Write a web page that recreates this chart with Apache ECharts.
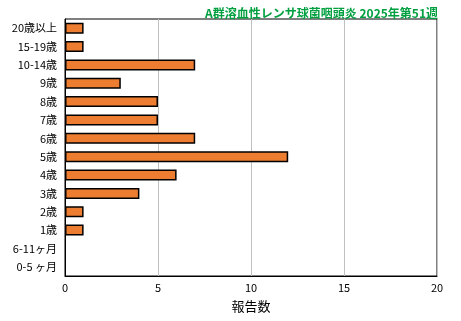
<!DOCTYPE html>
<html>
<head>
<meta charset="utf-8">
<script src="https://cdn.jsdelivr.net/npm/echarts@6/dist/echarts.min.js"></script>
<style>
  html, body { margin: 0; padding: 0; background: #fff; }
  #chart { width: 461px; height: 321px; }
</style>
</head>
<body>
<div id="chart"></div>
<script>
// categories listed top to bottom
const ageGroups = ['20歳以上', '15-19歳', '10-14歳', '9歳', '8歳', '7歳', '6歳', '5歳', '4歳', '3歳', '2歳', '1歳', '6-11ヶ月', '0-5 ヶ月'];
const reports = [1, 1, 7, 3, 5, 5, 7, 12, 6, 4, 1, 1, 0, 0];
const titleText = 'A群溶血性レンサ球菌咽頭炎 2025年第51週';

const font = '"Noto Sans CJK JP", "DejaVu Sans", sans-serif';
const myChart = echarts.init(document.getElementById('chart'));
myChart.setOption({
  animation: false,
  title: {
    text: titleText,
    right: 18,
    top: 2,
    textStyle: { color: '#00A040', fontSize: 12, fontWeight: 'bold', fontFamily: font }
  },
  grid: {
    left: 65,
    right: 24,
    top: 19,
    bottom: 45,
    show: true,
    borderColor: '#000',
    borderWidth: 1
  },
  xAxis: {
    type: 'value',
    min: 0,
    max: 20,
    interval: 5,
    name: '報告数',
    nameLocation: 'middle',
    nameGap: 24,
    nameTextStyle: { color: '#000', fontSize: 13, fontFamily: font },
    axisLine: { show: true, lineStyle: { color: '#000' } },
    axisTick: { show: false },
    axisLabel: { color: '#000', fontSize: 11, fontFamily: font, margin: 6 },
    splitLine: { show: true, lineStyle: { color: '#c0c0c0', width: 1 } }
  },
  yAxis: {
    type: 'category',
    inverse: true,
    data: ageGroups,
    axisLine: { show: true, lineStyle: { color: '#000' } },
    axisTick: { show: false },
    axisLabel: { color: '#000', fontSize: 11, fontFamily: font, margin: 8 }
  },
  series: [
    {
      type: 'bar',
      // no outline for empty bars
      data: reports.map(v => ({ value: v, itemStyle: v === 0 ? { borderWidth: 0 } : {} })),
      barWidth: 11,
      itemStyle: { color: '#ED7D31', borderColor: '#000', borderWidth: 1.5 }
    }
  ]
});
</script>
</body>
</html>
